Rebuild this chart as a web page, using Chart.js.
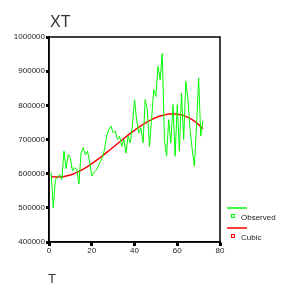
<!DOCTYPE html>
<html>
<head>
<meta charset="utf-8">
<script src="https://cdn.jsdelivr.net/npm/chart.js@4/dist/chart.umd.min.js"></script>
<style>
  html, body { margin: 0; padding: 0; background: #fff; }
  #wrap { width: 286px; height: 291px; position: relative; }
</style>
</head>
<body>
<div id="wrap"><canvas id="chart" width="286" height="291"></canvas></div>
<script>
// time index
const T = Array.from({ length: 72 }, (_, i) => i + 1);

const observed = [
  603000, 500000, 583000, 590000, 597000, 583000, 666000, 615000, 656000, 645000,
  608000, 618000, 612000, 570000, 661000, 676000, 655000, 666000, 635000, 593000,
  603000, 610000, 622000, 635000, 648000, 672000, 710000, 729000, 739000, 720000,
  725000, 700000, 710000, 680000, 700000, 660000, 710000, 690000, 739000, 817000,
  757000, 720000, 734000, 690000, 817000, 787000, 680000, 760000, 846000, 826000,
  914000, 875000, 952000, 700000, 651000, 758000, 690000, 802000, 651000, 802000,
  666000, 836000, 700000, 870000, 817000, 729000, 671000, 622000, 739000, 880000,
  710000, 755000
];

// cubic fit curve
const cubic = [
  591800, 590800, 590200, 590000, 590200, 590700, 591700, 592900, 594500, 596300,
  598500, 601000, 603700, 606700, 609900, 613300, 617000, 620900, 624900, 629100,
  633500, 638000, 642600, 647300, 652200, 657100, 662100, 667100, 672200, 677400,
  682500, 687600, 692800, 697900, 702900, 707900, 712800, 717700, 722400, 727000,
  731500, 735900, 740100, 744100, 748000, 751700, 755100, 758300, 761300, 764000,
  766500, 768700, 770500, 772100, 773300, 774300, 774800, 775000, 774800, 774200,
  773200, 771800, 769900, 767600, 764900, 761600, 757900, 753600, 748800, 743500,
  737700, 731200
];

const xTicks = [0, 20, 40, 60, 80];
const yTicks = [400000, 500000, 600000, 700000, 800000, 900000, 1000000];

const seriesNames = ['Observed', 'Cubic'];
const seriesColors = ['#00ff00', '#ff0000'];

const toPoints = (vals) => vals.map((v, i) => ({ x: T[i], y: v }));

// box around the plot, titles and the side legend
const decor = {
  id: 'decor',
  afterDraw(chart) {
    const { ctx, chartArea: a } = chart;
    ctx.save();
    ctx.strokeStyle = '#000';
    ctx.lineWidth = 1.5;
    ctx.strokeRect(a.left, a.top, a.right - a.left, a.bottom - a.top);

    ctx.fillStyle = '#333';
    ctx.font = '16px Arial, "Liberation Sans", sans-serif';
    ctx.textBaseline = 'alphabetic';
    ctx.fillText('XT', 50, 27);
    ctx.font = '13px Arial, "Liberation Sans", sans-serif';
    ctx.fillText('T', 48, 283);

    ctx.font = '8px Arial, "Liberation Sans", sans-serif';
    ctx.textBaseline = 'middle';
    seriesNames.forEach((name, i) => {
      const y0 = 208 + i * 20;
      ctx.strokeStyle = seriesColors[i];
      ctx.lineWidth = 1.5;
      ctx.beginPath();
      ctx.moveTo(227, y0);
      ctx.lineTo(247, y0);
      ctx.stroke();
      ctx.lineWidth = 1;
      ctx.strokeRect(231.5, y0 + 6.5, 3, 3);
      ctx.fillStyle = '#222';
      ctx.fillText(name, 241, y0 + 10);
    });
    ctx.restore();
  }
};

new Chart(document.getElementById('chart'), {
  type: 'line',
  data: {
    datasets: [
      {
        label: seriesNames[0],
        data: toPoints(observed),
        borderColor: seriesColors[0],
        borderWidth: 1,
        pointRadius: 0,
        tension: 0
      },
      {
        label: seriesNames[1],
        data: toPoints(cubic),
        borderColor: seriesColors[1],
        borderWidth: 1.5,
        pointRadius: 0,
        tension: 0
      }
    ]
  },
  options: {
    responsive: false,
    animation: false,
    layout: { padding: { left: 0, right: 66, top: 37, bottom: 0 } },
    plugins: { legend: { display: false }, tooltip: { enabled: false } },
    scales: {
      x: {
        type: 'linear',
        min: 0,
        max: 80,
        afterFit(scale) { scale.height = 49; },
        afterBuildTicks(scale) { scale.ticks = xTicks.map(v => ({ value: v })); },
        border: { display: true, color: '#000', width: 1.5 },
        grid: { drawOnChartArea: false, tickLength: 4, tickWidth: 3, tickColor: '#000', offset: false },
        ticks: { color: '#222', font: { size: 8, family: 'Arial, "Liberation Sans", sans-serif' }, padding: 0, maxRotation: 0 }
      },
      y: {
        type: 'linear',
        min: 400000,
        max: 1000000,
        afterFit(scale) { scale.width = 49; },
        afterBuildTicks(scale) { scale.ticks = yTicks.map(v => ({ value: v })); },
        border: { display: true, color: '#000', width: 1.5 },
        grid: { drawOnChartArea: false, tickLength: 3, tickWidth: 3, tickColor: '#000' },
        ticks: { color: '#222', font: { size: 8, family: 'Arial, "Liberation Sans", sans-serif' }, padding: 1, callback: v => String(v) }
      }
    }
  },
  plugins: [decor]
});
</script>
</body>
</html>
